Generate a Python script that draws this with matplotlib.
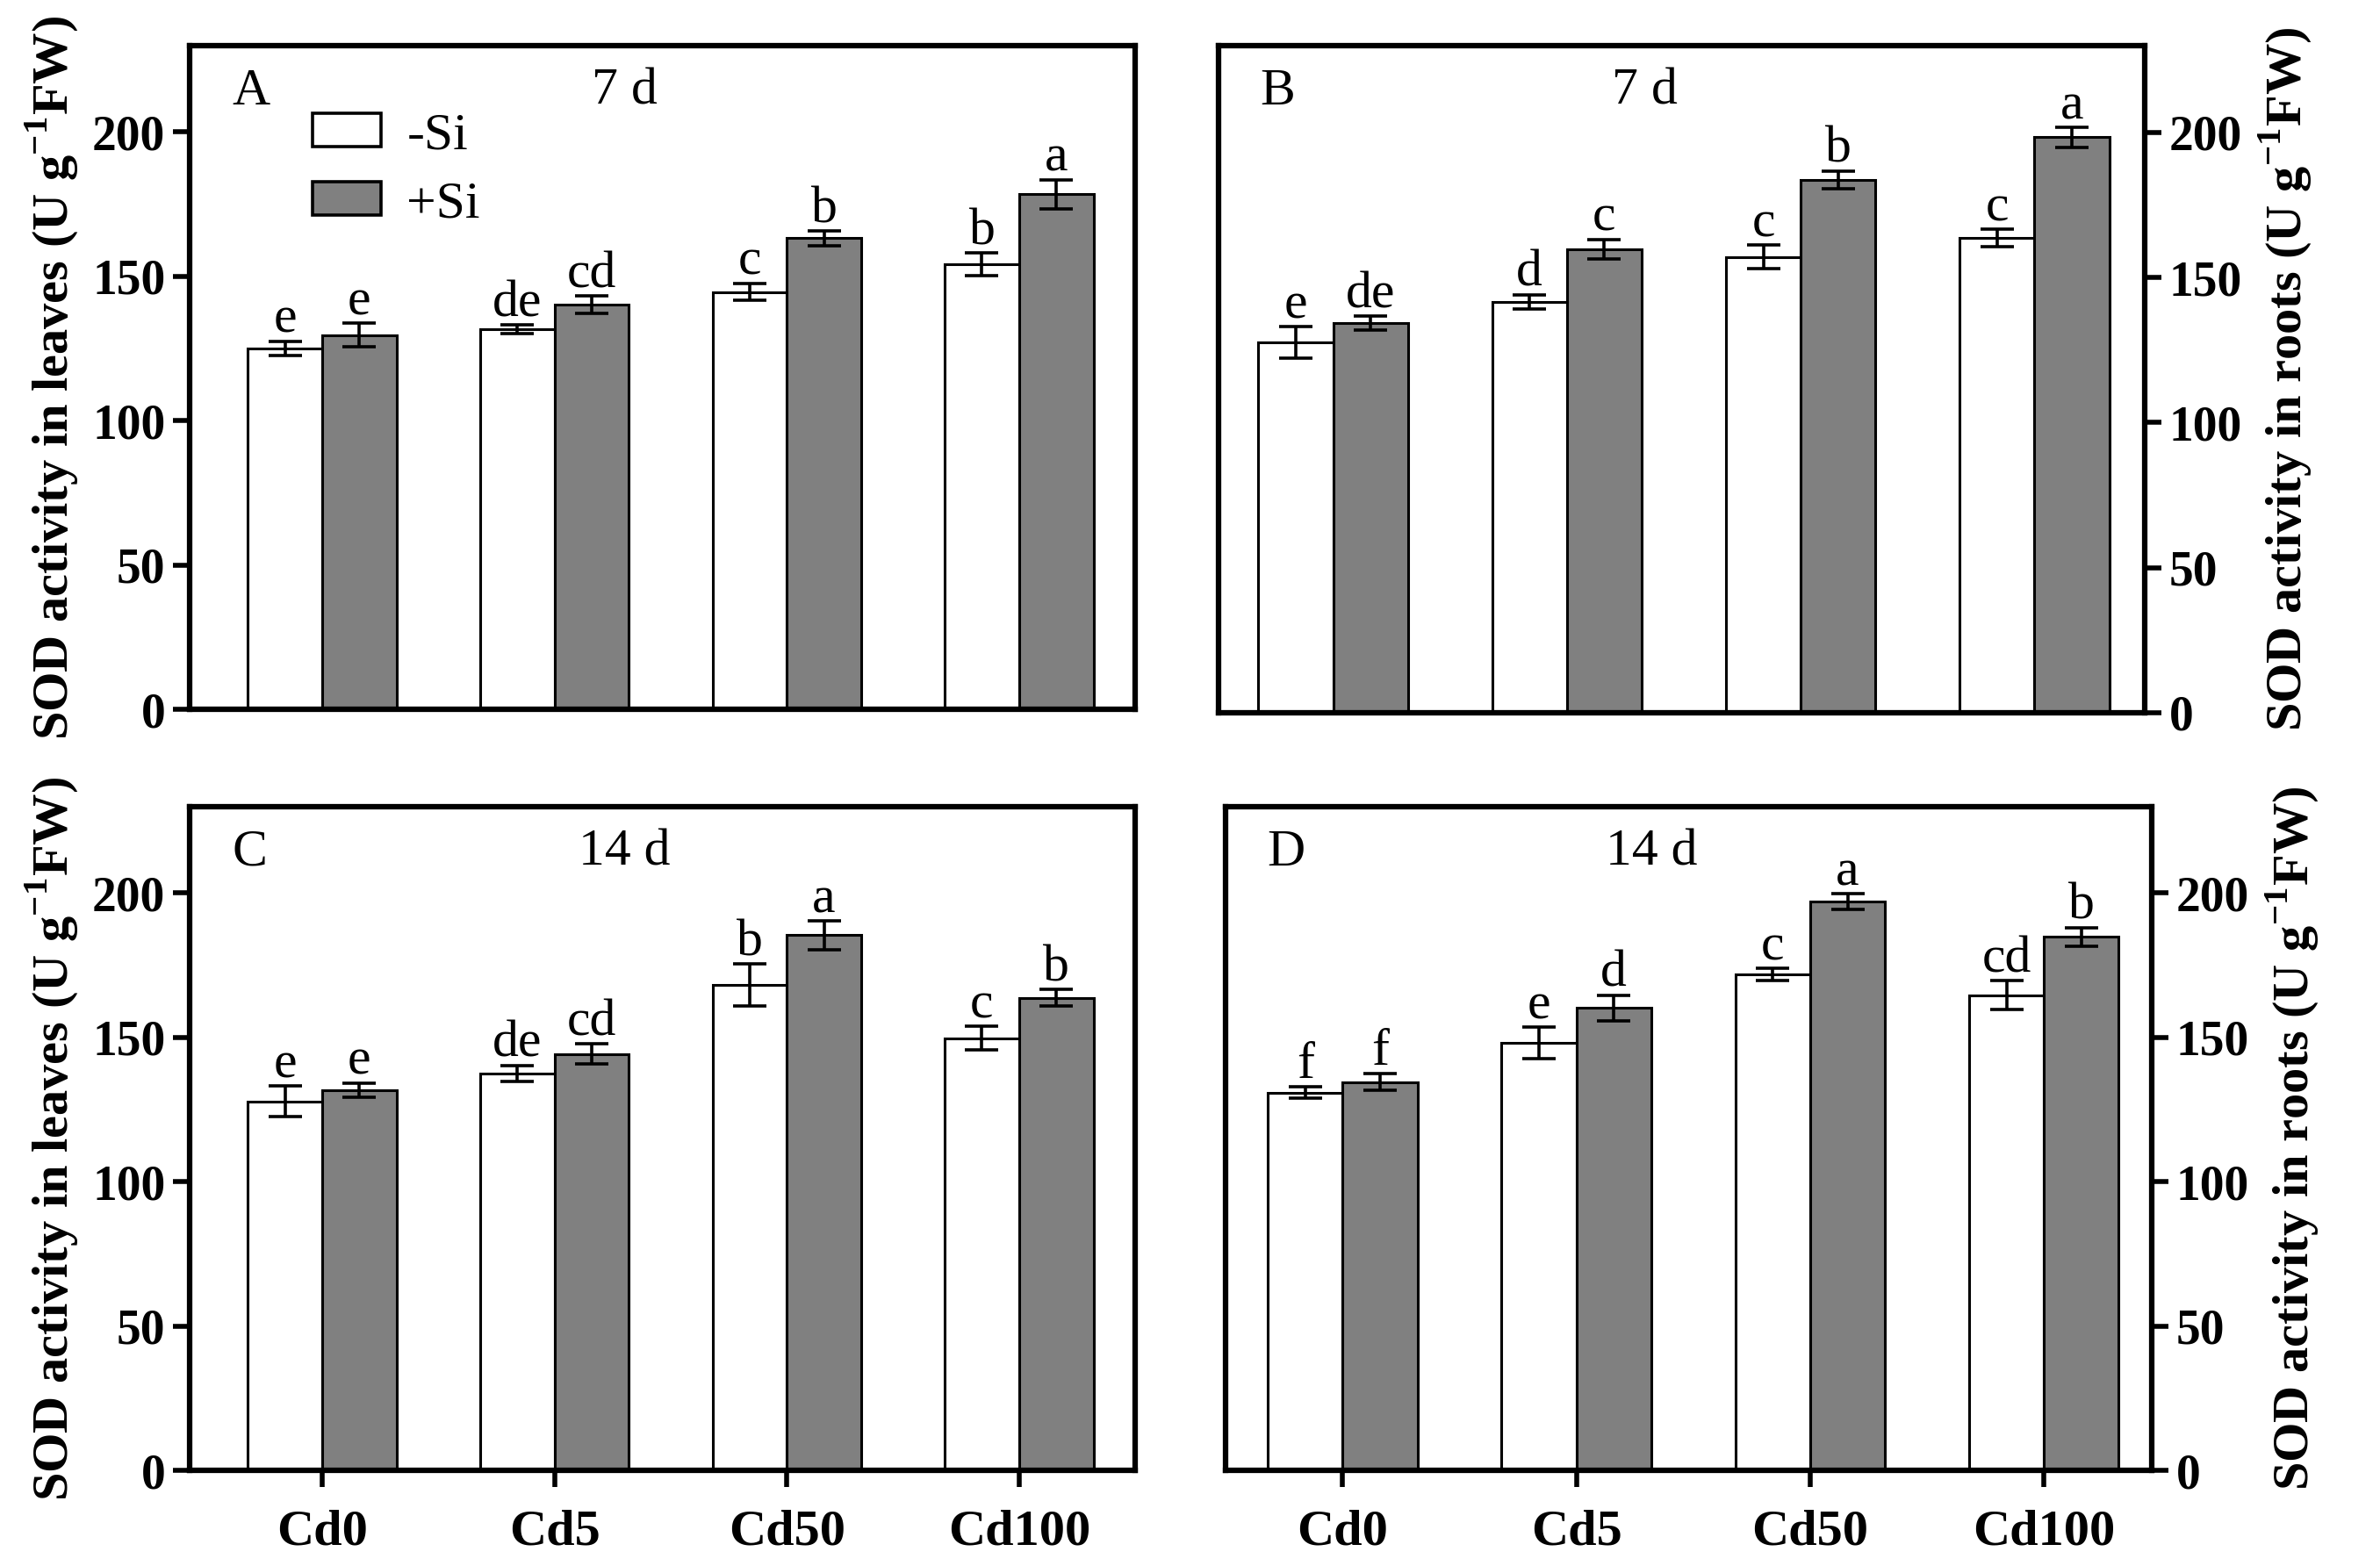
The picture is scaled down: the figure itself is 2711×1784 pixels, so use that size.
import numpy as np
import matplotlib
matplotlib.use('Agg')
import matplotlib.pyplot as plt
from matplotlib.patches import Patch

plt.rcParams['font.family'] = ['Liberation Serif', 'DejaVu Serif']
plt.rcParams['mathtext.fontset'] = 'custom'
plt.rcParams['mathtext.rm'] = 'Liberation Serif'
plt.rcParams['mathtext.bf'] = 'Liberation Serif:bold'

# treatments
groups = ['Cd0', 'Cd5', 'Cd50', 'Cd100']

# A: leaves, 7 d
leaf7_noSi = [125.1, 131.6, 144.6, 154.2]
leaf7_noSi_err = [2.5, 1.5, 3.0, 4.0]
leaf7_Si = [129.7, 140.3, 163.2, 178.5]
leaf7_Si_err = [4.0, 3.0, 2.5, 5.0]
leaf7_let_noSi = ['e', 'de', 'c', 'b']
leaf7_let_Si = ['e', 'cd', 'b', 'a']

# B: roots, 7 d
root7_noSi = [127.6, 141.6, 157.1, 163.6]
root7_noSi_err = [5.5, 2.4, 4.0, 3.0]
root7_Si = [134.2, 159.7, 183.7, 198.3]
root7_Si_err = [2.4, 3.4, 3.0, 3.4]
root7_let_noSi = ['e', 'd', 'c', 'c']
root7_let_Si = ['de', 'c', 'b', 'a']

# C: leaves, 14 d
leaf14_noSi = [127.9, 137.6, 168.2, 149.7]
leaf14_noSi_err = [5.2, 2.7, 7.2, 4.1]
leaf14_Si = [131.7, 144.3, 185.4, 163.7]
leaf14_Si_err = [2.5, 3.4, 5.0, 2.9]
leaf14_let_noSi = ['e', 'de', 'b', 'c']
leaf14_let_Si = ['e', 'cd', 'a', 'b']

# D: roots, 14 d
root14_noSi = [130.9, 148.2, 171.8, 164.7]
root14_noSi_err = [2.0, 5.4, 2.2, 5.0]
root14_Si = [134.5, 160.2, 197.0, 184.9]
root14_Si_err = [2.9, 4.5, 2.7, 3.2]
root14_let_noSi = ['f', 'e', 'c', 'cd']
root14_let_Si = ['f', 'd', 'a', 'b']

fig = plt.figure(figsize=(27.11, 17.84), dpi=100)

axA = fig.add_axes([0.0797, 0.547, 0.3973, 0.424])
axB = fig.add_axes([0.512, 0.545, 0.389, 0.426])
axC = fig.add_axes([0.0797, 0.061, 0.3973, 0.424])
axD = fig.add_axes([0.515, 0.061, 0.389, 0.424])

panels = [
    (axA, 'A', '7 d', leaf7_noSi, leaf7_noSi_err, leaf7_Si, leaf7_Si_err, leaf7_let_noSi, leaf7_let_Si, 'leaves', 'left', False, (-0.57, 3.50)),
    (axB, 'B', '7 d', root7_noSi, root7_noSi_err, root7_Si, root7_Si_err, root7_let_noSi, root7_let_Si, 'roots', 'right', False, (-0.49, 3.47)),
    (axC, 'C', '14 d', leaf14_noSi, leaf14_noSi_err, leaf14_Si, leaf14_Si_err, leaf14_let_noSi, leaf14_let_Si, 'leaves', 'left', True, (-0.57, 3.50)),
    (axD, 'D', '14 d', root14_noSi, root14_noSi_err, root14_Si, root14_Si_err, root14_let_noSi, root14_let_Si, 'roots', 'right', True, (-0.50, 3.46)),
]

x = np.arange(len(groups))
w = 0.32
fs = 43

for ax, tag, day, v1, e1, v2, e2, l1, l2, organ, side, xlab, xl in panels:
    ekw = dict(ecolor='black', elinewidth=2.6, capsize=14, capthick=2.6)
    ax.bar(x - w / 2, v1, w, yerr=e1, color='white', edgecolor='black', linewidth=2.2, error_kw=ekw)
    ax.bar(x + w / 2, v2, w, yerr=e2, color='#808080', edgecolor='black', linewidth=2.2, error_kw=ekw)

    # significance letters
    for i in range(len(groups)):
        ax.text(x[i] - w / 2, v1[i] + e1[i] + 3, l1[i], ha='center', va='baseline', fontsize=fs)
        ax.text(x[i] + w / 2, v2[i] + e2[i] + 3, l2[i], ha='center', va='baseline', fontsize=fs)

    ax.set_ylim(0, 230)
    ax.set_xlim(*xl)
    ax.set_yticks([0, 50, 100, 150, 200])

    for sp in ax.spines.values():
        sp.set_linewidth(4.5)

    ax.text(0.045, 0.93, tag, transform=ax.transAxes, fontsize=fs, va='center', ha='left')
    ax.text(0.46, 0.93, day, transform=ax.transAxes, fontsize=fs, va='center', ha='center')

    ylab = 'SOD activity in ' + organ + r' (U g$^{\mathbf{-1}}$FW)'
    ax.set_ylabel(ylab, fontsize=42, fontweight='bold')
    if side == 'right':
        ax.yaxis.tick_right()
        ax.yaxis.set_label_position('right')
        ax.yaxis.labelpad = 12
    else:
        ax.yaxis.labelpad = 10

    ax.tick_params(axis='y', direction='out', length=14, width=4, labelsize=40, pad=6)
    for lab in ax.get_yticklabels():
        lab.set_fontweight('bold')

    if xlab:
        ax.set_xticks(x)
        ax.set_xticklabels(groups, fontsize=42, fontweight='bold')
        ax.tick_params(axis='x', direction='out', length=14, width=4, pad=18)
    else:
        ax.set_xticks([])

handles = [Patch(facecolor='white', edgecolor='black', linewidth=2.6, label='-Si'),
           Patch(facecolor='#808080', edgecolor='black', linewidth=2.6, label='+Si')]
axA.legend(handles=handles, loc='upper left', bbox_to_anchor=(0.08, 0.97), frameon=False,
           fontsize=fs, handlelength=1.3, handleheight=0.6, handletextpad=0.5, labelspacing=0.4)

fig.savefig('out.png', dpi=100)
